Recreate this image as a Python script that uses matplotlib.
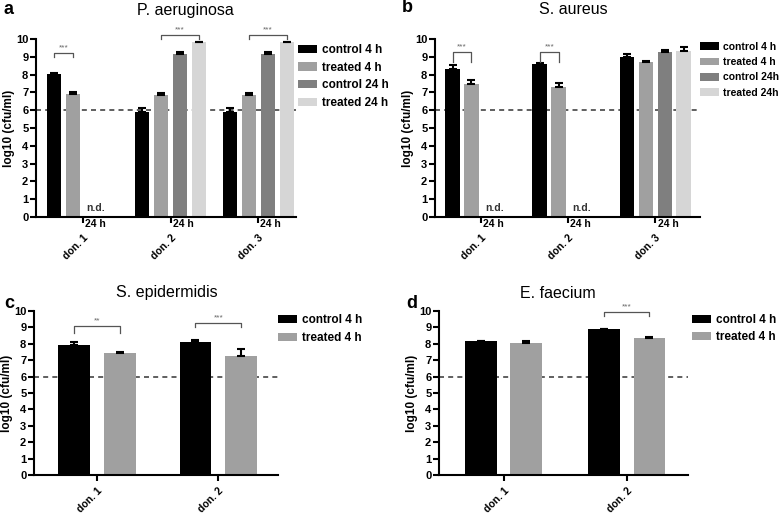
import numpy as np
import matplotlib
matplotlib.use("Agg")
import matplotlib.pyplot as plt
from matplotlib.transforms import blended_transform_factory

plt.rcParams['font.family'] = ['Liberation Sans', 'DejaVu Sans']

# ---- data (log10 cfu/ml), None = not detected ----
donors3 = ['don. 1', 'don. 2', 'don. 3']
donors2 = ['don. 1', 'don. 2']

pa_labels = ['control 4 h', 'treated 4 h', 'control 24 h', 'treated 24 h']
pa_vals = [[8.05, 6.93, None, None],
           [5.90, 6.85, 9.15, 9.82],
           [5.90, 6.85, 9.15, 9.82]]
pa_err = [[0.02, 0.08, 0, 0],
          [0.20, 0.10, 0.10, 0.03],
          [0.20, 0.10, 0.10, 0.03]]

sa_labels = ['control 4 h', 'treated 4 h', 'control 24h', 'treated 24h']
sa_vals = [[8.33, 7.50, None, None],
           [8.62, 7.28, None, None],
           [8.98, 8.72, 9.27, 9.35]]
sa_err = [[0.22, 0.22, 0, 0],
          [0.02, 0.25, 0, 0],
          [0.15, 0.04, 0.13, 0.20]]

se_labels = ['control 4 h', 'treated 4 h']
se_vals = [[7.95, 7.43], [8.10, 7.28]]
se_err = [[0.15, 0.07], [0.15, 0.38]]

ef_labels = ['control 4 h', 'treated 4 h']
ef_vals = [[8.15, 8.05], [8.90, 8.33]]
ef_err = [[0.05, 0.15], [0.01, 0.06]]

# brackets: (donor, bar_i, bar_j, top, leg_bottom, stars)
pa_sig = [(0, 0, 1, 9.2, 9.0, '***'), (1, 1, 3, 10.25, 10.0, '***'), (2, 1, 3, 10.25, 10.0, '***')]
sa_sig = [(0, 0, 1, 9.27, 8.7, '***'), (1, 0, 1, 9.27, 8.7, '***')]
se_sig = [(0, 0, 1, 9.08, 8.66, '**'), (1, 0, 1, 9.27, 9.0, '***')]
ef_sig = [(1, 0, 1, 9.94, 9.7, '***')]

colors = ['#000000', '#a0a0a0', '#7f7f7f', '#d6d6d6']

W, H = 784, 514


def panel(ax, vals, err, labels, donors, sig, width, pitch, xlim,
          nd=False, leg_dx=0, leg_dy=0, leg_fs=8.5, leg_sp=0.36, xpad=4):
    n = len(labels)
    offs = (np.arange(n) - (n - 1) / 2) * pitch
    for i in range(n):
        xs, ys, es = [], [], []
        for g in range(len(donors)):
            v = vals[g][i]
            if v is None:
                continue
            xs.append(g + offs[i]); ys.append(v); es.append(err[g][i])
        ax.bar(xs, ys, width, color=colors[i], label=labels[i], zorder=2)
        ax.errorbar(xs, ys, yerr=[np.zeros(len(es)), es], fmt='none', ecolor='black',
                    elinewidth=1.5, capsize=3, capthick=1.5, zorder=3)
    # n.d. markers + "24 h" labels next to the ticks
    if nd:
        for g in range(len(donors)):
            if vals[g][2] is None:
                ax.text(g + 0.7 * pitch, 0.25, 'n.d.', ha='center', va='bottom',
                        fontsize=7.5, fontweight='bold', color='#333333')
        tr = blended_transform_factory(ax.transData, ax.transAxes)
        for g in range(len(donors)):
            ax.text(g + 0.025, -0.012, '24 h', transform=tr, ha='left', va='top',
                    fontsize=7.5, fontweight='bold')
    ax.axhline(6, color='#444444', ls=(0, (3, 2.5)), lw=1.2, zorder=1)
    for g, i, j, top, bot, s in sig:
        x1, x2 = g + offs[i], g + offs[j]
        ax.plot([x1, x1, x2, x2], [bot, top, top, bot], color='#555555', lw=0.9,
                clip_on=False, zorder=4)
        ax.text((x1 + x2) / 2, top + 0.08, s, ha='center', va='bottom', fontsize=6,
                color='#666666', clip_on=False)
    ax.set_xlim(*xlim)
    ax.set_ylim(0, 10)
    ax.set_yticks(range(0, 11))
    ax.set_xticks(range(len(donors)))
    ax.set_xticklabels(donors, rotation=45, ha='right', rotation_mode='anchor')
    ax.tick_params(axis='x', pad=xpad, length=4, width=1.5)
    ax.tick_params(axis='y', length=4, width=1.5, pad=1.5)
    for lab in ax.get_yticklabels():
        lab.set_fontweight('bold')
        lab.set_fontsize(8)
    for lab in ax.get_xticklabels():
        lab.set_fontweight('bold')
        lab.set_fontsize(7.5)
    for sp in ['top', 'right']:
        ax.spines[sp].set_visible(False)
    for sp in ['left', 'bottom']:
        ax.spines[sp].set_linewidth(1.5)
    ax.set_ylabel('log10 (cfu/ml)', fontsize=8.5, fontweight='bold', labelpad=1)
    bb = ax.get_position()
    ax.legend(loc='upper left',
              bbox_to_anchor=(1.0 + leg_dx / (bb.width * W), 1.0 - leg_dy / (bb.height * H)),
              frameon=False, prop={'weight': 'bold', 'size': leg_fs},
              handlelength=13.7 / leg_fs, handleheight=5.8 / leg_fs,
              handletextpad=0.4, labelspacing=leg_sp, borderaxespad=0, borderpad=0)
    return ax


fig = plt.figure(figsize=(W / 100, H / 100), dpi=100)


def box(l, r, t, b):
    return [l / W, 1 - b / H, (r - l) / W, (b - t) / H]


ax_a = fig.add_axes(box(36, 296, 39, 217))
ax_b = fig.add_axes(box(435, 700, 39, 217))
ax_c = fig.add_axes(box(34, 278, 311, 475))
ax_d = fig.add_axes(box(439, 688, 311, 475))

panel(ax_a, pa_vals, pa_err, pa_labels, donors3, pa_sig, 0.16, 0.216, (-0.534, 2.43),
      nd=True, leg_dx=2, leg_dy=5, leg_fs=8.5, leg_sp=0.48, xpad=7)
panel(ax_b, sa_vals, sa_err, sa_labels, donors3, sa_sig, 0.17, 0.217, (-0.526, 2.51),
      nd=True, leg_dx=0, leg_dy=3, leg_fs=7.5, leg_sp=0.5, xpad=7)
panel(ax_c, se_vals, se_err, se_labels, donors2, se_sig, 0.262, 0.377, (-0.516, 1.49),
      leg_dx=0, leg_dy=3, leg_fs=8.5, leg_sp=0.5, xpad=4)
panel(ax_d, ef_vals, ef_err, ef_labels, donors2, ef_sig, 0.26, 0.366, (-0.528, 1.496),
      leg_dx=4, leg_dy=3, leg_fs=8.5, leg_sp=0.4, xpad=4)

# panel titles and letters
for x, y, s in [(185, 10, 'P. aeruginosa'), (573, 10, 'S. aureus'),
                (167, 293, 'S. epidermidis'), (558, 293, 'E. faecium')]:
    fig.text(x / W, 1 - y / H, s, fontsize=11.5, ha='center', va='center')
for x, y, s in [(9, 10, 'a'), (407, 8, 'b'), (9, 304, 'c'), (412, 303, 'd')]:
    fig.text(x / W, 1 - y / H, s, fontsize=13, fontweight='bold', va='center', ha='center')

fig.savefig('out.png', dpi=100)
